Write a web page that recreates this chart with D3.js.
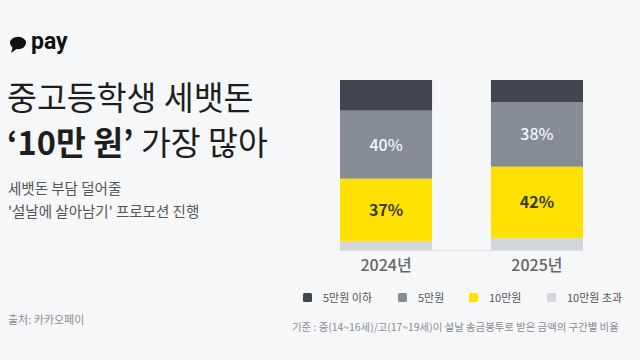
<!DOCTYPE html>
<html>
<head>
<meta charset="utf-8">
<script src="https://cdn.jsdelivr.net/npm/d3@7"></script>
<style>
  html, body { margin: 0; padding: 0; background: #f6f7f9; }
  svg { display: block; font-family: "Noto Sans CJK KR", "Noto Sans", sans-serif; }
</style>
</head>
<body>
<div id="chart"></div>
<script>
// Data
const years = ["2024년", "2025년"];
const categories = ["10만원 초과", "10만원", "5만원", "5만원 이하"];   // bottom -> top
const share2024 = [5, 37, 40, 18];
const share2025 = [7, 42, 38, 13];
const legendOrder = ["5만원 이하", "5만원", "10만원", "10만원 초과"];
const colors = ["#d3d7dc", "#fee100", "#868c94", "#40454e"];

const width = 640, height = 360;

const svg = d3.select("#chart").append("svg")
  .attr("width", width)
  .attr("height", height);

svg.append("rect").attr("width", width).attr("height", height).attr("fill", "#f6f7f9");

// Logo
const logo = svg.append("g");
logo.append("ellipse").attr("cx", 18).attr("cy", 43).attr("rx", 8).attr("ry", 6.2).attr("fill", "#111");
logo.append("path").attr("d", "M13,46 L11,53 L18,48 Z").attr("fill", "#111");
logo.append("text").attr("x", 31).attr("y", 49)
  .attr("font-size", 23).attr("font-weight", 700).attr("fill", "#111")
  .attr("font-family", "Roboto, 'Noto Sans', sans-serif")
  .text("pay");

// Title
svg.append("text").attr("x", 7).attr("y", 110)
  .attr("font-size", 32.5).attr("fill", "#1e1e1e")
  .text("중고등학생 세뱃돈");
const t2 = svg.append("text").attr("x", 7).attr("y", 155)
  .attr("font-size", 32.5).attr("fill", "#1e1e1e");
t2.append("tspan").attr("font-weight", 700).text("‘10만 원’");
t2.append("tspan").text(" 가장 많아");

svg.append("text").attr("x", 8).attr("y", 194)
  .attr("font-size", 14.5).attr("fill", "#555").text("세뱃돈 부담 덜어줄");
svg.append("text").attr("x", 8).attr("y", 217)
  .attr("font-size", 14.5).attr("fill", "#555").text("'설날에 살아남기' 프로모션 진행");

svg.append("text").attr("x", 8).attr("y", 324)
  .attr("font-size", 11).attr("fill", "#8a8d92").text("출처: 카카오페이");

// Chart
const table = years.map((y, i) => {
  const row = { year: y };
  const vals = i === 0 ? share2024 : share2025;
  categories.forEach((c, j) => row[c] = vals[j]);
  return row;
});

const x = d3.scaleBand().domain(years).range([340, 583]).paddingInner(0.39).paddingOuter(0);
const y = d3.scaleLinear().domain([0, 100]).range([250, 80]);
const color = d3.scaleOrdinal().domain(categories).range(colors);

const series = d3.stack().keys(categories)(table);

svg.append("line").attr("x1", 340).attr("x2", 583).attr("y1", y(0) + 0.5).attr("y2", y(0) + 0.5)
  .attr("stroke", "#dcdfe3");

const groups = svg.append("g").selectAll("g").data(series).join("g")
  .attr("fill", d => color(d.key));

groups.selectAll("rect").data(d => d).join("rect")
  .attr("x", d => x(d.data.year))
  .attr("y", d => y(d[1]))
  .attr("width", x.bandwidth())
  .attr("height", d => y(d[0]) - y(d[1]));

// Value labels on the 5만원 and 10만원 segments
series.filter(s => s.key === "5만원" || s.key === "10만원").forEach(s => {
  svg.append("g").selectAll("text").data(s).join("text")
    .attr("x", d => x(d.data.year) + x.bandwidth() / 2)
    .attr("y", d => (y(d[0]) + y(d[1])) / 2 + 6)
    .attr("text-anchor", "middle")
    .attr("font-size", 16)
    .attr("font-weight", s.key === "10만원" ? 700 : 500)
    .attr("fill", s.key === "10만원" ? "#3b3a2c" : "#f4f5f7")
    .text(d => (d[1] - d[0]) + "%");
});

// X axis
const xAxis = svg.append("g").attr("transform", `translate(0, ${y(0)})`)
  .call(d3.axisBottom(x).tickSize(0).tickPadding(10));
xAxis.select(".domain").remove();
xAxis.selectAll("text")
  .attr("font-size", 16).attr("font-weight", 500).attr("fill", "#666")
  .attr("font-family", "'Noto Sans CJK KR', sans-serif");

// Legend
const legendX = [303, 398, 469, 547];
const legend = svg.append("g").selectAll("g").data(legendOrder).join("g")
  .attr("transform", (d, i) => `translate(${legendX[i]}, 293)`);
legend.append("rect").attr("width", 9).attr("height", 9).attr("rx", 1.5)
  .attr("fill", d => color(d));
legend.append("text").attr("x", 20).attr("y", 8.5)
  .attr("font-size", 11).attr("fill", "#555").text(d => d);

svg.append("text").attr("x", 292).attr("y", 331)
  .attr("font-size", 10.4).attr("fill", "#8a8d92")
  .text("기준 : 중(14~16세)/고(17~19세)이 설날 송금봉투로 받은 금액의 구간별 비율");
</script>
</body>
</html>
